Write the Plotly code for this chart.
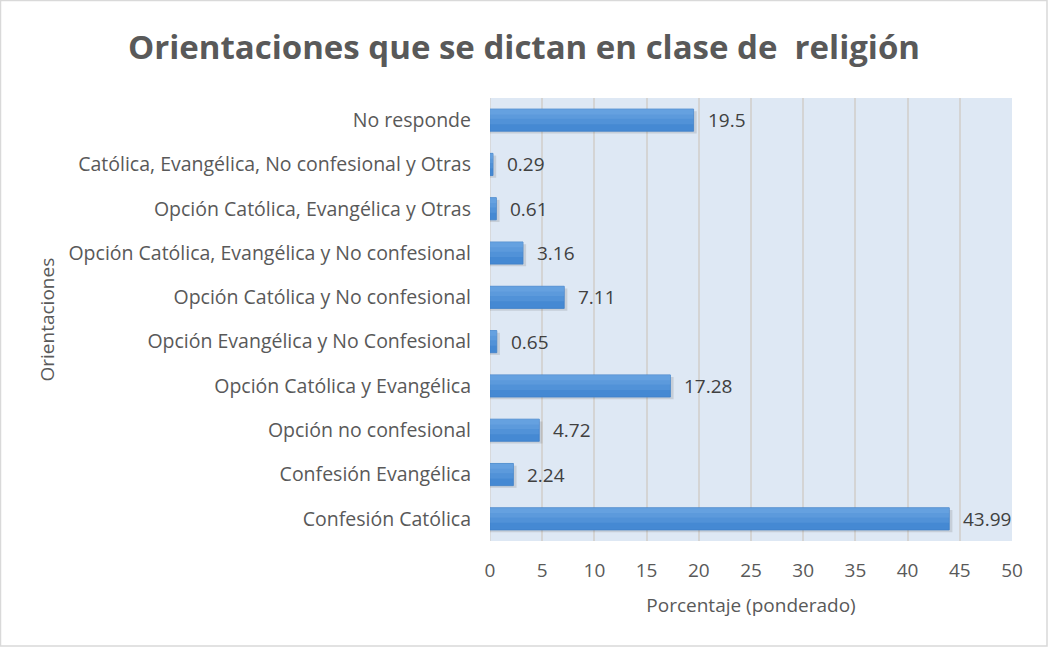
import plotly.graph_objects as go

categories = [
    "Confesión Católica",
    "Confesión Evangélica",
    "Opción no confesional",
    "Opción Católica y Evangélica",
    "Opción Evangélica y No Confesional",
    "Opción Católica y No confesional",
    "Opción Católica, Evangélica y No confesional",
    "Opción Católica, Evangélica y Otras",
    "Católica, Evangélica, No confesional y Otras",
    "No responde",
]
values = [43.99, 2.24, 4.72, 17.28, 0.65, 7.11, 3.16, 0.61, 0.29, 19.5]
labels = ["43.99", "2.24", "4.72", "17.28", "0.65", "7.11", "3.16", "0.61", "0.29", "19.5"]
x_ticks = [0, 5, 10, 15, 20, 25, 30, 35, 40, 45, 50]

W, H = 1048, 647
ml, mr, mt, mb = 490, 36, 98, 106
pw, ph = W - ml - mr, H - mt - mb

font_family = "Open Sans, Liberation Sans, sans-serif"
gray = "#595959"

fig = go.Figure()
# soft drop shadow
fig.add_trace(go.Bar(
    x=[v + 0.3 for v in values], y=categories, orientation="h",
    marker=dict(color="rgba(60,60,60,0.15)", line=dict(width=0)),
    width=0.5, offset=-0.3,
    hoverinfo="skip",
))
fig.add_trace(go.Bar(
    x=values, y=categories, orientation="h",
    marker=dict(color="#4589d3", line=dict(color="#3f80c8", width=0.8)),
    width=0.5, offset=-0.25,
    hoverinfo="x+y",
))
# lighter upper layers to hint the vertical gradient
for w, off, a in [(0.34, -0.09, 0.18), (0.22, 0.03, 0.2), (0.11, 0.13, 0.2)]:
    fig.add_trace(go.Bar(
        x=values, y=categories, orientation="h",
        marker=dict(color=f"rgba(140,190,238,{a})", line=dict(width=0)),
        width=w, offset=off,
        hoverinfo="skip",
    ))

annotations = []
for v, c, t in zip(values, categories, labels):
    annotations.append(dict(
        x=v, y=c, xref="x", yref="y", text=t, showarrow=False,
        xanchor="left", yanchor="middle", xshift=12,
        font=dict(size=19, color="#404040", family=font_family),
    ))
# y-axis title
annotations.append(dict(
    x=-(ml - 46) / pw, y=0.5, xref="paper", yref="paper",
    text="Orientaciones", textangle=-90, showarrow=False,
    xanchor="center", yanchor="middle",
    font=dict(size=19, color=gray, family=font_family),
))

fig.update_layout(
    width=W, height=H,
    margin=dict(l=ml, r=mr, t=mt, b=mb, autoexpand=False),
    paper_bgcolor="white",
    plot_bgcolor="#dee8f4",
    showlegend=False,
    barmode="overlay",
    font=dict(family=font_family, color=gray, size=19),
    title=dict(
        text="<b>Orientaciones que se dictan en clase de  religión</b>",
        x=0.5, xref="container", xanchor="center",
        y=1 - 47 / H, yanchor="middle", yref="container",
        font=dict(size=33, color=gray, family=font_family),
    ),
    xaxis=dict(
        range=[0, 50], tickvals=x_ticks, ticktext=[str(t) for t in x_ticks],
        showgrid=True, gridcolor="#d4d4d4", gridwidth=1.5,
        zeroline=False, showline=False,
        tickfont=dict(size=19, color=gray),
        ticklabelstandoff=16,
        title=dict(text="Porcentaje (ponderado)", font=dict(size=19, color=gray), standoff=16),
        fixedrange=True,
    ),
    yaxis=dict(
        categoryorder="array", categoryarray=categories,
        showgrid=False, zeroline=False, showline=False,
        tickfont=dict(size=19.5, color=gray),
        ticklabelstandoff=18,
        range=[-0.5, 9.5],
        fixedrange=True,
    ),
    annotations=annotations,
)

fig.add_shape(type="line", xref="x", yref="paper", x0=0, x1=0, y0=0, y1=1,
              line=dict(color="#d4d4d4", width=1.5), layer="below")

fig.add_shape(type="rect", xref="paper", yref="paper",
              x0=-(ml - 0.5) / pw, x1=(W - ml - 1) / pw,
              y0=-(mb - 1) / ph, y1=(H - mb - 0.5) / ph,
              line=dict(color="#d9d9d9", width=1.5), fillcolor="rgba(0,0,0,0)")

fig.write_html(
    "out.html",
    config={"displayModeBar": False},
    post_script="document.body.style.margin='0';document.body.style.overflow='hidden';",
)
